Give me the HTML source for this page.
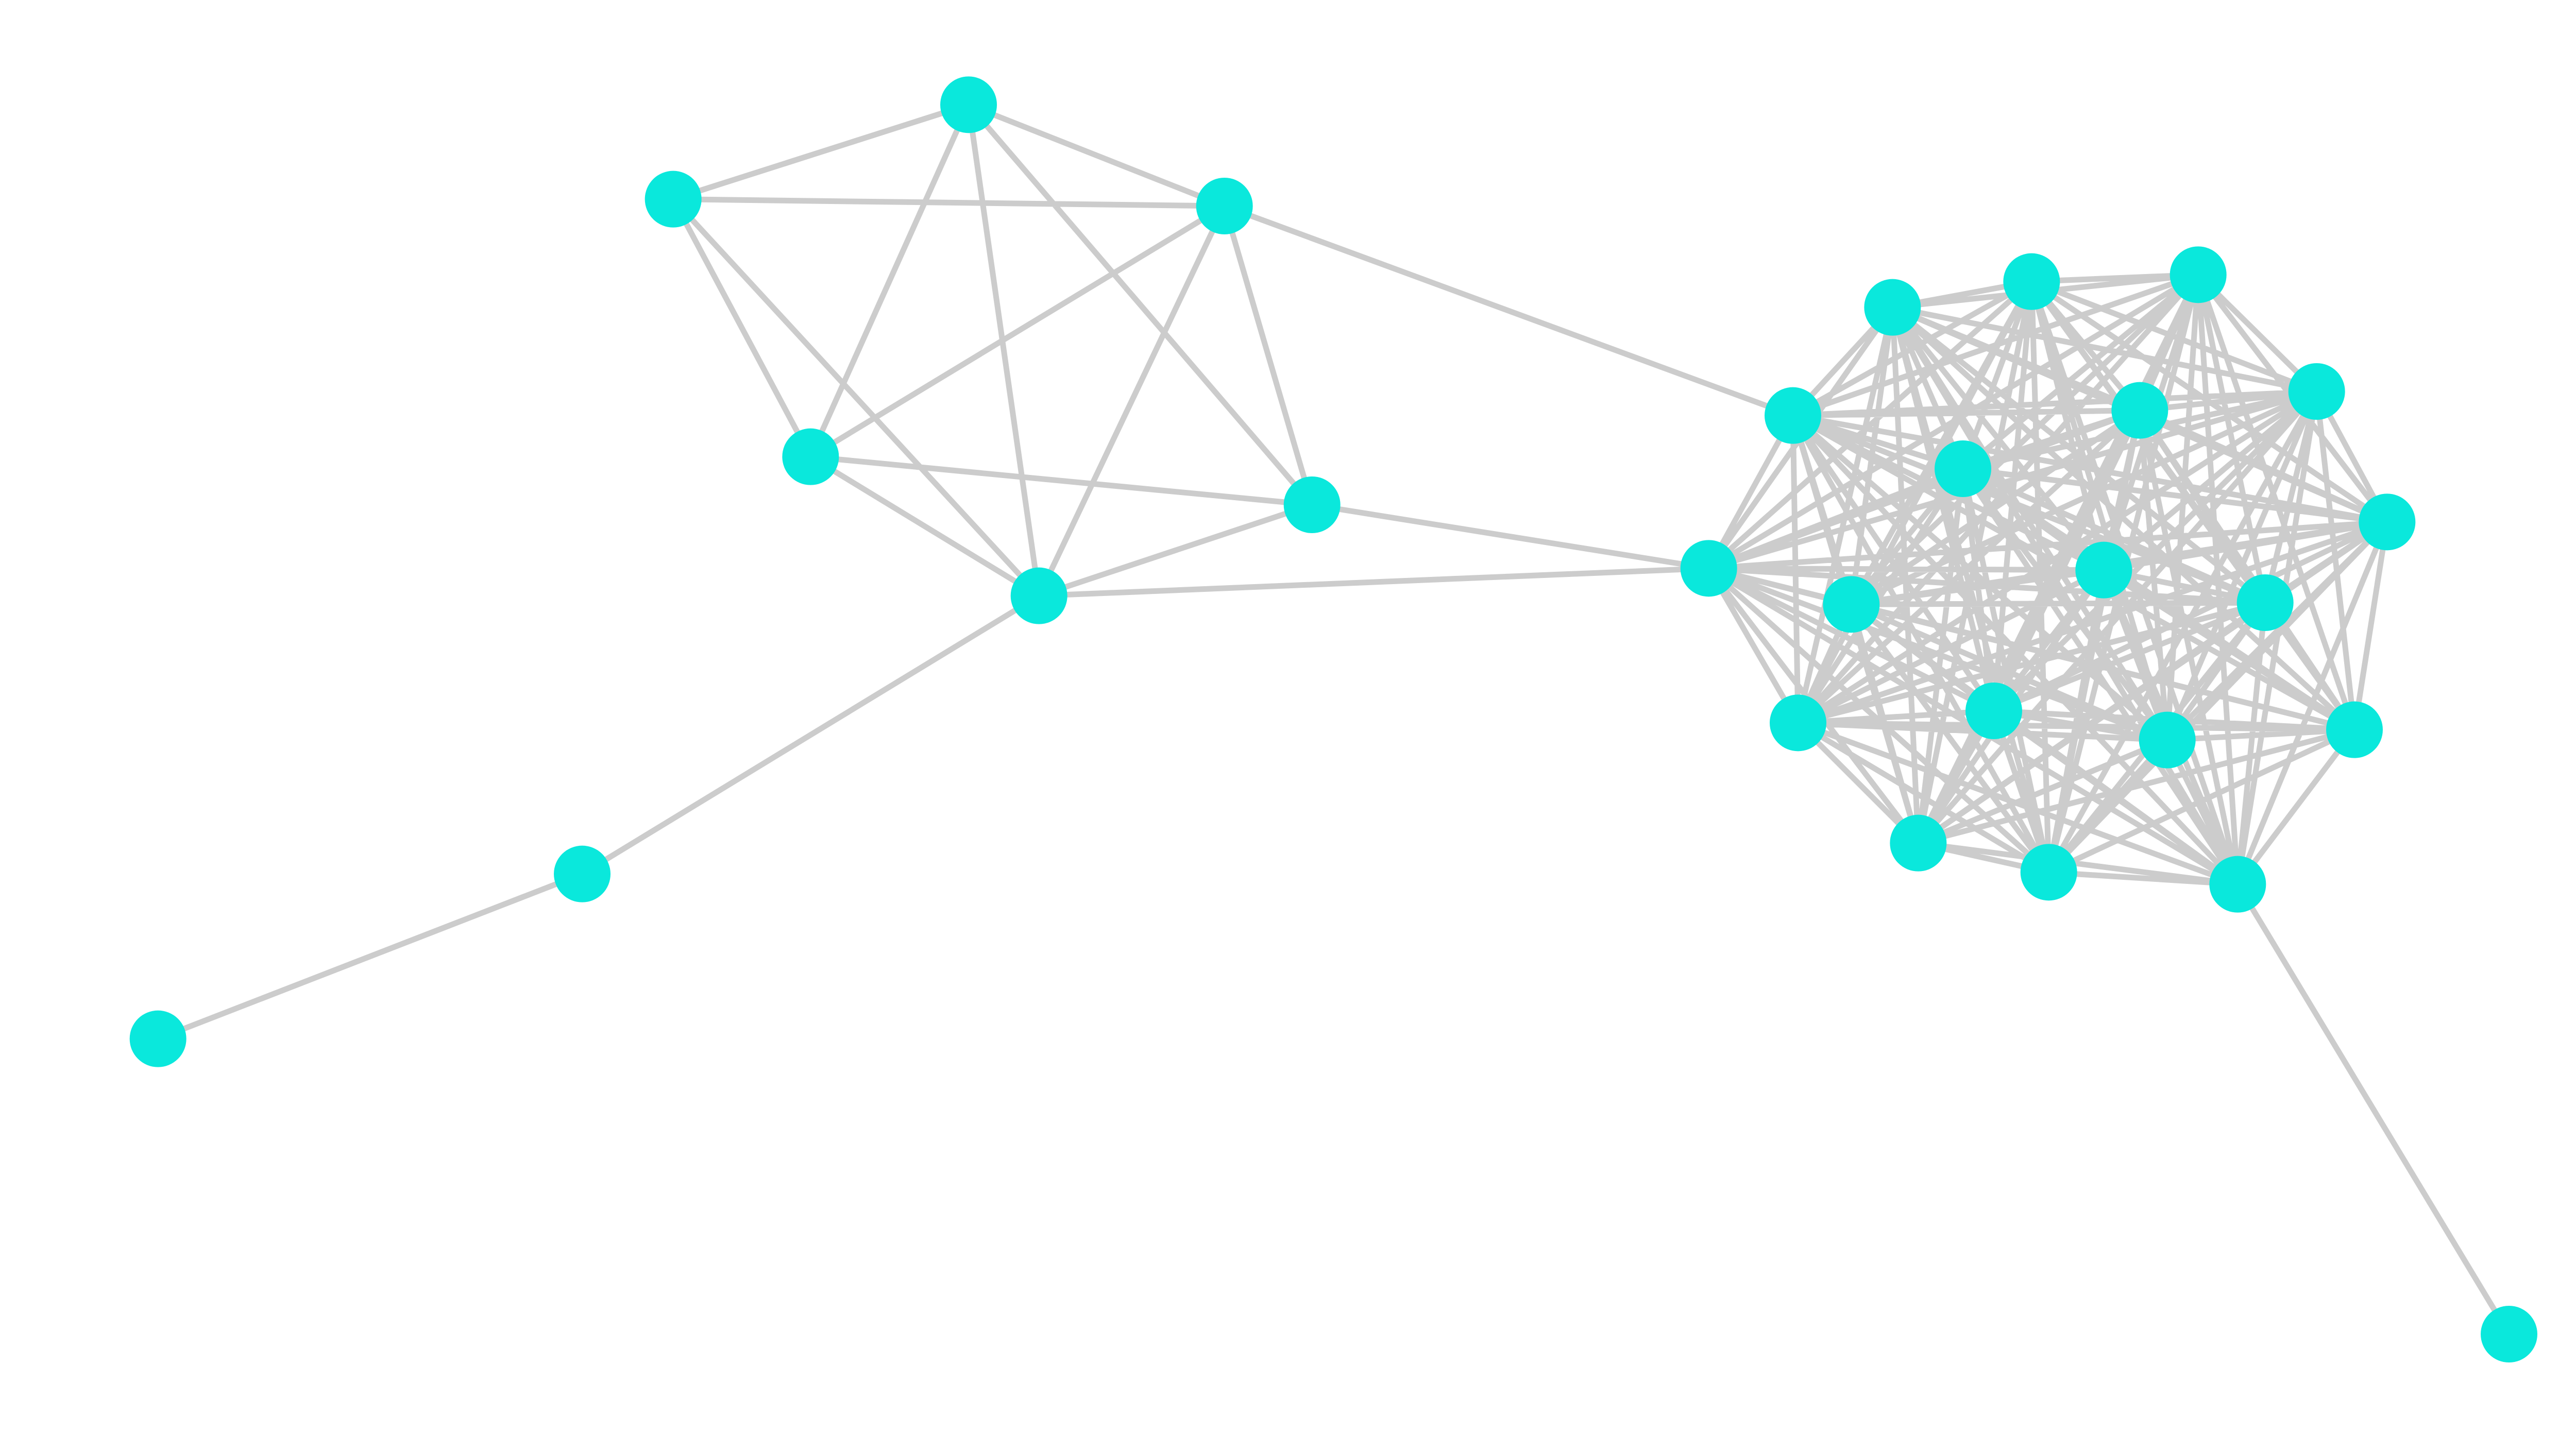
<!DOCTYPE html>
<html><head><meta charset="utf-8"><style>
html,body{margin:0;padding:0;background:#fff;width:5200px;height:2780px;overflow:hidden}
svg{display:block}
</style></head><body>
<svg width="5200" height="2780" viewBox="0 0 1560 834" xmlns="http://www.w3.org/2000/svg">
<g stroke="#cccccc" stroke-width="3.3" fill="none" stroke-linecap="round">
<path d="M564 61L392 116M564 61L713 120M564 61L472 266M564 61L605 347M564 61L764 294M392 116L713 120M392 116L472 266M392 116L605 347M713 120L472 266M713 120L605 347M713 120L764 294M472 266L764 294M472 266L605 347M764 294L605 347M605 347L339 509M339 509L92 605M713 120L1044 242M764 294L995 331M605 347L995 331M1303 515L1461 777"/>
<path d="M1102 179L1183 164M1102 179L1280 160M1102 179L1044 242M1102 179L1349 228M1102 179L1246 239M1102 179L1143 273M1102 179L1390 304M1102 179L995 331M1102 179L1225 332M1102 179L1078 352M1102 179L1319 351M1102 179L1047 421M1102 179L1161 414M1102 179L1262 431M1102 179L1371 425M1102 179L1117 491M1102 179L1193 508M1102 179L1303 515
M1183 164L1280 160M1183 164L1044 242M1183 164L1349 228M1183 164L1246 239M1183 164L1143 273M1183 164L1390 304M1183 164L995 331M1183 164L1225 332M1183 164L1078 352M1183 164L1319 351M1183 164L1047 421M1183 164L1161 414M1183 164L1262 431M1183 164L1371 425M1183 164L1117 491M1183 164L1193 508M1183 164L1303 515
M1280 160L1044 242M1280 160L1349 228M1280 160L1246 239M1280 160L1143 273M1280 160L1390 304M1280 160L995 331M1280 160L1225 332M1280 160L1078 352M1280 160L1319 351M1280 160L1047 421M1280 160L1161 414M1280 160L1262 431M1280 160L1371 425M1280 160L1117 491M1280 160L1193 508M1280 160L1303 515
M1044 242L1349 228M1044 242L1246 239M1044 242L1143 273M1044 242L1390 304M1044 242L995 331M1044 242L1225 332M1044 242L1078 352M1044 242L1319 351M1044 242L1047 421M1044 242L1161 414M1044 242L1262 431M1044 242L1371 425M1044 242L1117 491M1044 242L1193 508M1044 242L1303 515
M1349 228L1246 239M1349 228L1143 273M1349 228L1390 304M1349 228L995 331M1349 228L1225 332M1349 228L1078 352M1349 228L1319 351M1349 228L1047 421M1349 228L1161 414M1349 228L1262 431M1349 228L1371 425M1349 228L1117 491M1349 228L1193 508M1349 228L1303 515
M1246 239L1143 273M1246 239L1390 304M1246 239L995 331M1246 239L1225 332M1246 239L1078 352M1246 239L1319 351M1246 239L1047 421M1246 239L1161 414M1246 239L1262 431M1246 239L1371 425M1246 239L1117 491M1246 239L1193 508M1246 239L1303 515
M1143 273L1390 304M1143 273L995 331M1143 273L1225 332M1143 273L1078 352M1143 273L1319 351M1143 273L1047 421M1143 273L1161 414M1143 273L1262 431M1143 273L1371 425M1143 273L1117 491M1143 273L1193 508M1143 273L1303 515
M1390 304L995 331M1390 304L1225 332M1390 304L1078 352M1390 304L1319 351M1390 304L1047 421M1390 304L1161 414M1390 304L1262 431M1390 304L1371 425M1390 304L1117 491M1390 304L1193 508M1390 304L1303 515
M995 331L1225 332M995 331L1078 352M995 331L1319 351M995 331L1047 421M995 331L1161 414M995 331L1262 431M995 331L1371 425M995 331L1117 491M995 331L1193 508M995 331L1303 515
M1225 332L1078 352M1225 332L1319 351M1225 332L1047 421M1225 332L1161 414M1225 332L1262 431M1225 332L1371 425M1225 332L1117 491M1225 332L1193 508M1225 332L1303 515
M1078 352L1319 351M1078 352L1047 421M1078 352L1161 414M1078 352L1262 431M1078 352L1371 425M1078 352L1117 491M1078 352L1193 508M1078 352L1303 515
M1319 351L1047 421M1319 351L1161 414M1319 351L1262 431M1319 351L1371 425M1319 351L1117 491M1319 351L1193 508M1319 351L1303 515
M1047 421L1161 414M1047 421L1262 431M1047 421L1371 425M1047 421L1117 491M1047 421L1193 508M1047 421L1303 515
M1161 414L1262 431M1161 414L1371 425M1161 414L1117 491M1161 414L1193 508M1161 414L1303 515
M1262 431L1371 425M1262 431L1117 491M1262 431L1193 508M1262 431L1303 515
M1371 425L1117 491M1371 425L1193 508M1371 425L1303 515
M1117 491L1193 508M1117 491L1303 515
M1193 508L1303 515"/>
</g>
<g fill="#0ae8dc">
<circle cx="564" cy="61" r="16.5"/><circle cx="392" cy="116" r="16.5"/><circle cx="713" cy="120" r="16.5"/><circle cx="472" cy="266" r="16.5"/><circle cx="764" cy="294" r="16.5"/><circle cx="605" cy="347" r="16.5"/><circle cx="339" cy="509" r="16.5"/><circle cx="92" cy="605" r="16.5"/>
<circle cx="1102" cy="179" r="16.5"/><circle cx="1183" cy="164" r="16.5"/><circle cx="1280" cy="160" r="16.5"/><circle cx="1044" cy="242" r="16.5"/><circle cx="1349" cy="228" r="16.5"/><circle cx="1246" cy="239" r="16.5"/><circle cx="1143" cy="273" r="16.5"/><circle cx="1390" cy="304" r="16.5"/><circle cx="995" cy="331" r="16.5"/><circle cx="1225" cy="332" r="16.5"/><circle cx="1078" cy="352" r="16.5"/><circle cx="1319" cy="351" r="16.5"/><circle cx="1047" cy="421" r="16.5"/><circle cx="1161" cy="414" r="16.5"/><circle cx="1262" cy="431" r="16.5"/><circle cx="1371" cy="425" r="16.5"/><circle cx="1117" cy="491" r="16.5"/><circle cx="1193" cy="508" r="16.5"/><circle cx="1303" cy="515" r="16.5"/><circle cx="1461" cy="777" r="16.5"/>
</g>
</svg>
</body></html>
